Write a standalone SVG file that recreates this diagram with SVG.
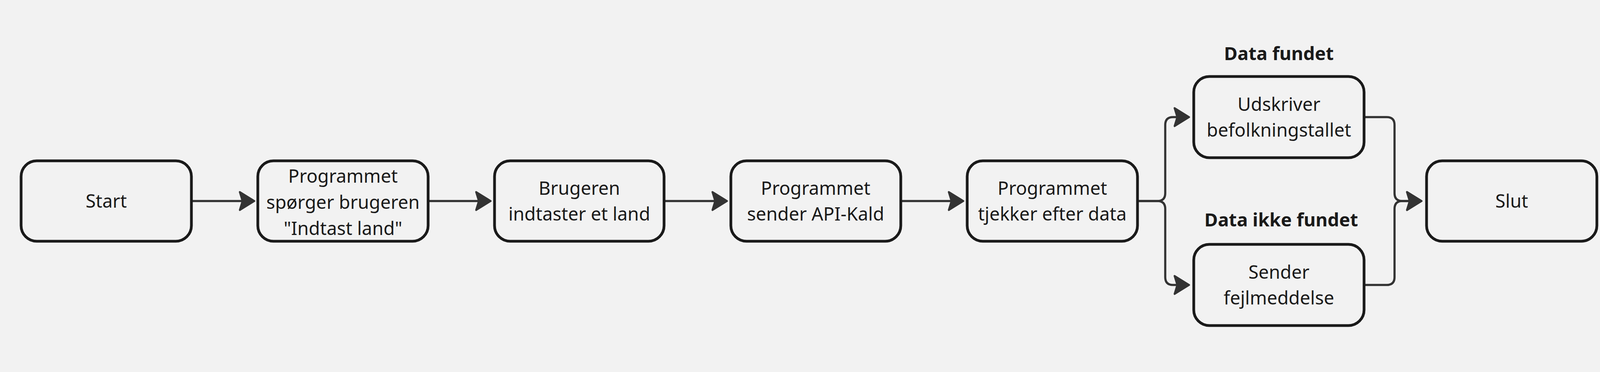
<svg xmlns="http://www.w3.org/2000/svg" width="4197" height="953" viewBox="0 0 4197 953">
<style>
.node rect{fill:#f2f2f2;stroke:#1a1a1a;stroke-width:7}
.node text{font-family:"Noto Sans","Open Sans","DejaVu Sans",sans-serif;font-size:47px;fill:#1a1a1a;text-anchor:middle}
.lbl{font-family:"Noto Sans","Open Sans","DejaVu Sans",sans-serif;font-size:47px;font-weight:bold;fill:#1a1a1a;text-anchor:middle}
.conn path{fill:none;stroke:#333333;stroke-width:5.5;marker-end:url(#arr)}
</style>
<defs>
<marker id="arr" markerUnits="userSpaceOnUse" markerWidth="60" markerHeight="70" viewBox="-5 -35 55 70" refX="8" refY="0" orient="auto">
<path d="M2,-23 L39,0 L2,23 L9,0 Z" fill="#333333" stroke="#333333" stroke-width="5" stroke-linejoin="round"/>
</marker>
</defs>
<rect width="4197" height="953" fill="#f2f2f2"/>
<g class="conn" id="connectors">
<path d="M490,515 H620"/>
<path d="M1096,515 H1225"/>
<path d="M1700,515 H1830"/>
<path d="M2306,515 H2435"/>
<path d="M2912,515 H2963 Q2983,515 2983,495 V320 Q2983,300 3003,300 H3013"/>
<path d="M2912,515 H2963 Q2983,515 2983,535 V710 Q2983,730 3003,730 H3013"/>
<path d="M3492,300 H3550 Q3570,300 3570,320 V495 Q3570,515 3590,515 H3608"/>
<path d="M3492,730 H3550 Q3570,730 3570,710 V535 Q3570,515 3590,515 H3608"/>
</g>
<g class="node" id="start"><rect x="54" y="412" width="436" height="206" rx="40"/><text x="272" y="532">Start</text></g>
<g class="node" id="spoerger"><rect x="660" y="412" width="436" height="206" rx="40"/><text x="878" y="468">Programmet</text><text x="878" y="535">spørger brugeren</text><text x="878" y="602">"Indtast land"</text></g>
<g class="node" id="brugeren"><rect x="1266" y="412" width="434" height="206" rx="40"/><text x="1483" y="499">Brugeren</text><text x="1483" y="565">indtaster et land</text></g>
<g class="node" id="api"><rect x="1871" y="412" width="435" height="206" rx="40"/><text x="2088" y="499">Programmet</text><text x="2088" y="565">sender API-Kald</text></g>
<g class="node" id="tjekker"><rect x="2476" y="412" width="436" height="206" rx="40"/><text x="2694" y="499">Programmet</text><text x="2694" y="565">tjekker efter data</text></g>
<g class="node" id="udskriver"><rect x="3056" y="196" width="436" height="208" rx="40"/><text x="3274" y="284">Udskriver</text><text x="3274" y="350">befolkningstallet</text></g>
<g class="node" id="fejl"><rect x="3056" y="626" width="436" height="208" rx="40"/><text x="3274" y="714">Sender</text><text x="3274" y="780">fejlmeddelse</text></g>
<g class="node" id="slut"><rect x="3652" y="412" width="436" height="206" rx="40"/><text x="3870" y="532">Slut</text></g>
<g id="labels">
<text class="lbl" x="3274" y="154">Data fundet</text>
<text class="lbl" x="3280" y="580">Data ikke fundet</text>
</g>
</svg>
